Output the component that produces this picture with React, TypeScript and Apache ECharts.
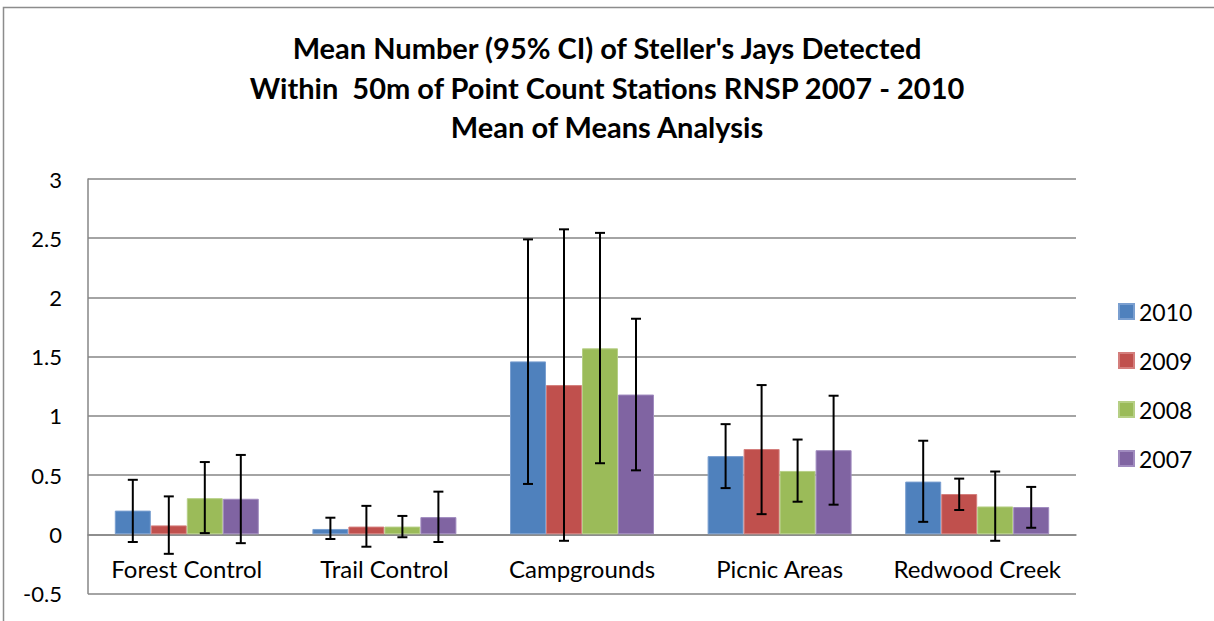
import React, { useEffect, useRef } from "react";
import * as echarts from "echarts";

const categories = ["Forest Control", "Trail Control", "Campgrounds", "Picnic Areas", "Redwood Creek"];
const years = ["2010", "2009", "2008", "2007"];
const colors = ["#4F81BD", "#C0504D", "#9BBB59", "#8064A2"];
const borderColors = ["#7A9FD0", "#D47E7C", "#B6CF85", "#A08BBF"];

const means2010 = [0.2, 0.045, 1.46, 0.66, 0.445];
const means2009 = [0.075, 0.065, 1.26, 0.72, 0.34];
const means2008 = [0.305, 0.065, 1.57, 0.535, 0.235];
const means2007 = [0.3, 0.145, 1.18, 0.71, 0.23];

const low2010 = [-0.065, -0.04, 0.425, 0.39, 0.105];
const high2010 = [0.46, 0.14, 2.49, 0.93, 0.79];
const low2009 = [-0.165, -0.105, -0.055, 0.17, 0.205];
const high2009 = [0.32, 0.24, 2.575, 1.26, 0.47];
const low2008 = [0.01, -0.025, 0.6, 0.275, -0.055];
const high2008 = [0.61, 0.155, 2.545, 0.8, 0.53];
const low2007 = [-0.075, -0.065, 0.54, 0.25, 0.055];
const high2007 = [0.67, 0.36, 1.82, 1.17, 0.4];

const yTicks = { min: -0.5, max: 3, interval: 0.5 };

const BAR_W = 36;
const GRID_TOP = 179;
const GRID_BOTTOM = 27.5;

export default function App() {
  const ref = useRef<HTMLDivElement>(null);
  useEffect(() => {
    document.body.style.margin = "0";
    if (!ref.current) return;
    const chart = echarts.init(ref.current, null, { renderer: "svg" });
    const means = [means2010, means2009, means2008, means2007];
    const lows = [low2010, low2009, low2008, low2007];
    const highs = [high2010, high2009, high2008, high2007];
    const errData: number[][] = [];
    for (let s = 0; s < 4; s++) {
      for (let c = 0; c < categories.length; c++) {
        errData.push([c, s, lows[s][c], highs[s][c]]);
      }
    }
    const plotH = 621 - GRID_TOP - GRID_BOTTOM;
    const zeroOffset = -((0 - yTicks.min) / (yTicks.max - yTicks.min)) * plotH;
    const font = "Lato, 'Open Sans', sans-serif";
    const barSeries = years.map((y, i) => ({
      name: y,
      type: "bar",
      data: means[i],
      barWidth: BAR_W,
      barGap: "0%",
      itemStyle: { color: colors[i], borderColor: borderColors[i], borderWidth: 1 },
      z: 2,
    }));
    chart.setOption({
      animation: false,
      backgroundColor: "#ffffff",
      title: {
        text: "Mean Number (95% CI) of Steller's Jays Detected\nWithin  50m of Point Count Stations RNSP 2007 - 2010\nMean of Means Analysis",
        left: "center",
        top: 23,
        textStyle: {
          fontFamily: font,
          fontWeight: "bold",
          fontSize: 29,
          lineHeight: 39.5,
          color: "#000",
        },
      },
      legend: {
        data: years,
        orient: "vertical",
        left: 1113,
        top: 295,
        icon: "rect",
        itemWidth: 15,
        itemHeight: 15,
        itemGap: 26,
        textStyle: { fontFamily: font, fontSize: 23, color: "#000" },
      },
      grid: { left: 88, right: 138, top: GRID_TOP, bottom: GRID_BOTTOM, outerBoundsMode: "none", containLabel: false },
      xAxis: {
        type: "category",
        data: categories,
        position: "bottom",
        offset: zeroOffset,
        axisLine: { onZero: false, lineStyle: { color: "#868686", width: 1.5 } },
        axisTick: { show: false },
        axisLabel: { interval: 0, hideOverlap: false, fontFamily: font, fontSize: 24, color: "#000", margin: 22 },
      },
      yAxis: {
        type: "value",
        min: yTicks.min,
        max: yTicks.max,
        interval: yTicks.interval,
        axisLine: { show: true, lineStyle: { color: "#868686", width: 1.5 } },
        axisTick: { show: false },
        splitLine: { lineStyle: { color: "#868686", width: 1.5 } },
        axisLabel: { fontFamily: font, fontSize: 22, color: "#000", margin: 26 },
      },
      graphic: [
        {
          type: "polyline",
          shape: { points: [[3.5, 621], [3.5, 7.5], [1214, 7.5]] },
          style: { stroke: "#8c8c8c", lineWidth: 1.5, fill: null },
          silent: true,
        },
      ],
      series: [
        ...barSeries,
        {
          name: "CI",
          type: "custom",
          data: errData,
          encode: { x: 0, y: [2, 3] },
          z: 5,
          renderItem: (params: any, api: any) => {
            const c = api.value(0);
            const s = api.value(1);
            const lo = api.coord([c, api.value(2)]);
            const hi = api.coord([c, api.value(3)]);
            const x = lo[0] + (s - 1.5) * BAR_W;
            const cap = 5;
            const st = { stroke: "#000", lineWidth: 2 };
            return {
              type: "group",
              children: [
                { type: "line", shape: { x1: x, y1: lo[1], x2: x, y2: hi[1] }, style: st },
                { type: "line", shape: { x1: x - cap, y1: lo[1], x2: x + cap, y2: lo[1] }, style: st },
                { type: "line", shape: { x1: x - cap, y1: hi[1], x2: x + cap, y2: hi[1] }, style: st },
              ],
            };
          },
        },
      ],
    });
    return () => chart.dispose();
  }, []);
  return <div ref={ref} style={{ width: 1214, height: 621 }} />;
}
